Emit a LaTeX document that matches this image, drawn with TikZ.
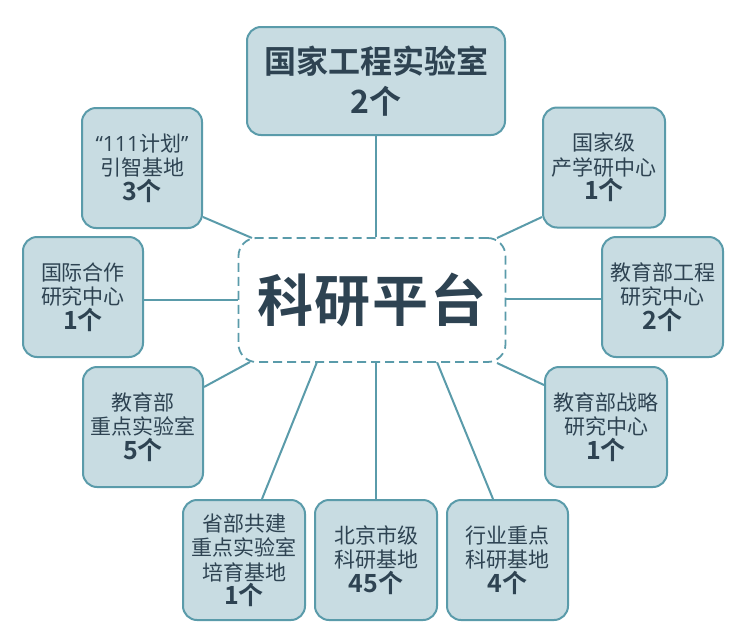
\documentclass[tikz,border=0pt]{standalone}
\usepackage{fontspec}
\newfontfamily\cjk{Noto Sans CJK SC}[BoldFont={Noto Sans CJK SC Bold}]
\newfontfamily\latin{Open Sans}
\usetikzlibrary{backgrounds}
\definecolor{boxfill}{HTML}{C8DCE2}
\definecolor{boxline}{HTML}{5A9BAA}
\definecolor{txt}{HTML}{2E4352}
\tikzset{
  item/.style={draw=boxline, line width=2pt, fill=boxfill, rounded corners=14pt,
    minimum width=120pt, minimum height=120pt, inner sep=0pt, align=center,
    text=txt, font=\cjk\fontsize{21}{24.5}\selectfont},
  bigitem/.style={item, minimum width=258pt, minimum height=108pt,
    font=\cjk\bfseries\fontsize{32}{40}\selectfont},
  hub/.style={draw=boxline, line width=1.8pt, dash pattern=on 9pt off 5pt, fill=white,
    rounded corners=18pt, minimum width=267pt, minimum height=124pt, inner sep=0pt,
    text=txt, font=\cjk\bfseries\fontsize{56}{60}\selectfont},
  link/.style={draw=boxline, line width=2pt}
}
\newcommand{\num}[1]{{\bfseries\fontsize{25}{25}\selectfont #1}}
\begin{document}
\begin{tikzpicture}[x=1pt,y=-1pt]
\useasboundingbox (0,0) rectangle (750,635);
\node[bigitem] (top) at (376,81) {国家工程实验室\\2个};
\node[hub] (ctr) at (372,300) {科\hspace{2pt}研\hspace{2pt}平\hspace{2pt}台};
\node[item] (b111) at (142,168) {{\latin “111}计划{\latin ”}\\引智基地\\\num{3个}};
\node[item] (gjhz) at (83,297) {国际合作\\研究中心\\\num{1个}};
\node[item] (jybzd) at (143,427) {教育部\\重点实验室\\\num{5个}};
\node[item, minimum width=122pt] (gjj) at (604,167.5) {国家级\\产学研中心\\\num{1个}};
\node[item, minimum width=121pt] (jybgc) at (662.5,297) {教育部工程\\研究中心\\\num{2个}};
\node[item, minimum width=122pt] (jybzl) at (606,427) {教育部战略\\研究中心\\\num{1个}};
\node[item, minimum width=122pt] (sbgj) at (244,560) {省部共建\\重点实验室\\培育基地\\\num{1个}};
\node[item, minimum width=122pt] (bjsj) at (376,560) {北京市级\\科研基地\\\num{45个}};
\node[item, minimum width=121pt] (hyzd) at (507.5,560) {行业重点\\科研基地\\\num{4个}};
\coordinate (p1) at (252,238);
\coordinate (p2) at (250,362);
\coordinate (p3) at (497,238);
\coordinate (p4) at (497,363);
\coordinate (p5) at (317,362);
\coordinate (p6) at (437,362);
\begin{pgfonlayer}{background}
\draw[link] (top.south) -- (top.south |- ctr.north);
\draw[link] (b111.east |- 0,217) -- (p1);
\draw[link] (gjhz.east |- 0,300) -- (ctr.west |- 0,300);
\draw[link] (jybzd.east |- 0,387) -- (p2);
\draw[link] (gjj.west |- 0,217) -- (p3);
\draw[link] (jybgc.west |- 0,299) -- (ctr.east |- 0,299);
\draw[link] (jybzl.west |- 0,385) -- (p4);
\draw[link] (sbgj.north -| 262,0) -- (p5);
\draw[link] (bjsj.north) -- (bjsj.north |- ctr.south);
\draw[link] (hyzd.north -| 493,0) -- (p6);
\end{pgfonlayer}
\end{tikzpicture}
\end{document}
